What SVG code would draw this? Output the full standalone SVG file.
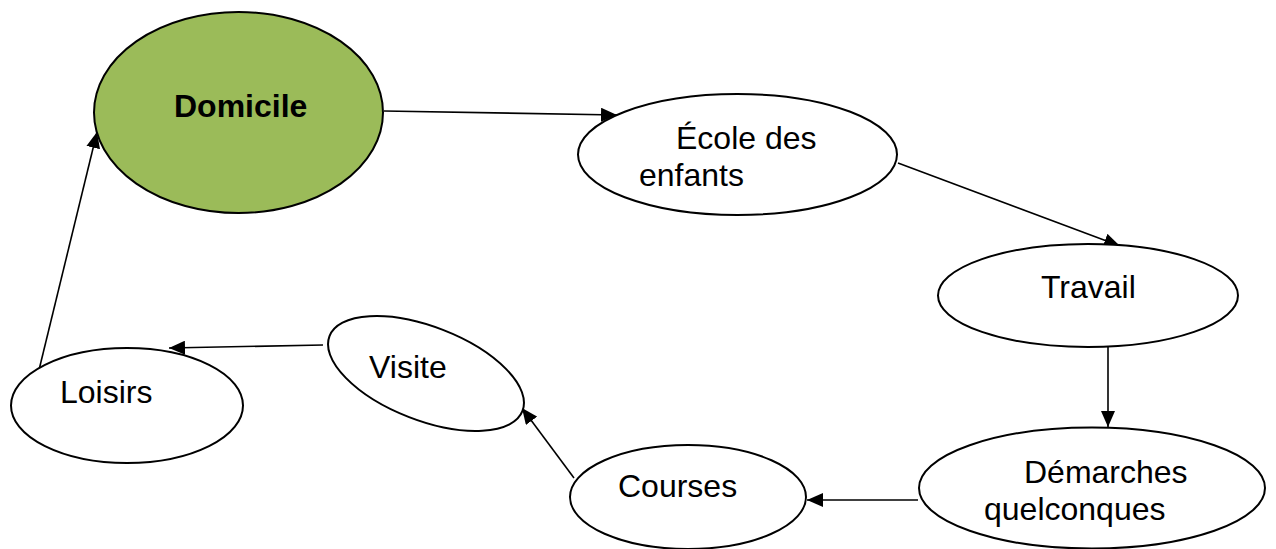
<svg xmlns="http://www.w3.org/2000/svg" width="1276" height="549" viewBox="0 0 1276 549">
<style>
.n{fill:#fff;stroke:#000;stroke-width:2}
.t{font-family:"Liberation Sans",Arial,sans-serif;font-size:32px;fill:#000}
.c{stroke:#000;stroke-width:1.6;fill:none;marker-end:url(#ah)}
</style>
<defs>
<marker id="ah" markerUnits="userSpaceOnUse" markerWidth="16" markerHeight="14" refX="16" refY="7" orient="auto">
<path d="M0,0 L16,7 L0,14 z" fill="#000"/>
</marker>
</defs>
<rect width="1276" height="549" fill="#fff"/>
<g id="connectors">
<line class="c" x1="384" y1="111" x2="617" y2="115"/>
<line class="c" x1="898" y1="163" x2="1120" y2="246"/>
<line class="c" x1="1108" y1="345" x2="1108" y2="427"/>
<line class="c" x1="918" y1="500" x2="807" y2="500"/>
<line class="c" x1="574" y1="478" x2="522" y2="408"/>
<line class="c" x1="323" y1="345" x2="169" y2="348"/>
<line class="c" x1="39" y1="370" x2="97" y2="132"/>
</g>
<g id="domicile">
<ellipse cx="238.5" cy="112.5" rx="144.5" ry="100.5" fill="#9bbb59" stroke="#000" stroke-width="2"/>
<text class="t" x="174" y="117" font-weight="bold">Domicile</text>
</g>
<g id="ecole">
<ellipse class="n" cx="737.5" cy="154.5" rx="159.5" ry="60.5"/>
<text class="t" x="676" y="149">École des</text>
<text class="t" x="639" y="186">enfants</text>
</g>
<g id="travail">
<ellipse class="n" cx="1088" cy="295.5" rx="150" ry="51.5"/>
<text class="t" x="1041" y="298">Travail</text>
</g>
<g id="demarches">
<ellipse class="n" cx="1092" cy="488" rx="173" ry="60.5"/>
<text class="t" x="1024" y="483">Démarches</text>
<text class="t" x="984" y="520">quelconques</text>
</g>
<g id="courses">
<ellipse class="n" cx="688" cy="497" rx="118" ry="52"/>
<text class="t" x="618" y="497">Courses</text>
</g>
<g id="visite">
<ellipse class="n" cx="0" cy="0" rx="103.5" ry="46.8" transform="translate(426 373.5) rotate(21.2)"/>
<text class="t" x="369" y="378">Visite</text>
</g>
<g id="loisirs">
<ellipse class="n" cx="127" cy="405.5" rx="116" ry="57.5"/>
<text class="t" x="60" y="403">Loisirs</text>
</g>
</svg>
